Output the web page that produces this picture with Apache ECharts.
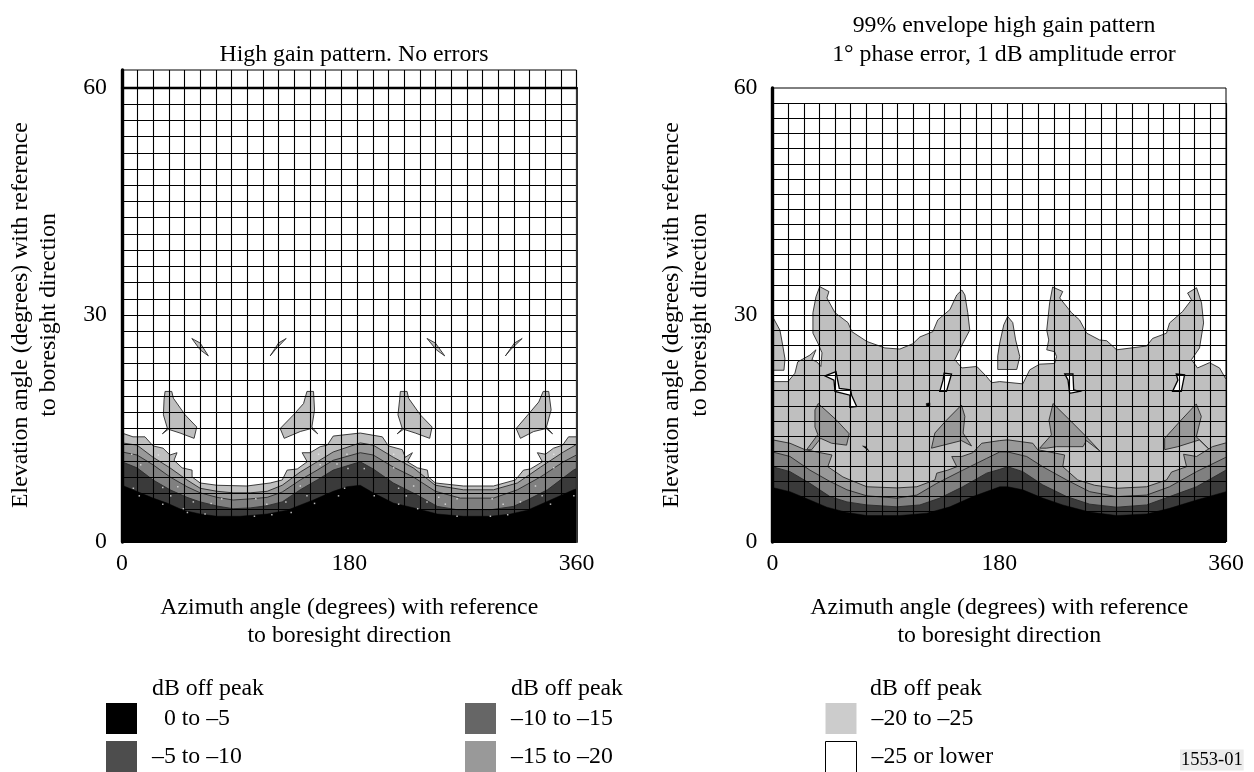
<!DOCTYPE html>
<html><head><meta charset="utf-8">
<style>html,body{margin:0;padding:0;background:#fff}#c{width:1254px;height:772px}</style>
<script src="https://cdn.jsdelivr.net/npm/echarts@6/dist/echarts.min.js"></script>
</head><body><div id="c"></div>
<script>
const panelTitles = ['High gain pattern. No errors', '99% envelope high gain pattern\n1° phase error, 1 dB amplitude error'];
const azimuthName = 'Azimuth angle (degrees) with reference\nto boresight direction';
const elevationName = 'Elevation angle (degrees) with reference\nto boresight direction';
const classNames = ['0 to –5', '–5 to –10', '–10 to –15', '–15 to –20', '–20 to –25', '–25 or lower'];
const legendColors = ['#000000', '#4d4d4d', '#666666', '#999999', '#cccccc', '#ffffff'];
const fillColors = ['#000000', '#3a3a3a', '#808080', '#999999', '#bfbfbf', '#ffffff'];

// Left panel, upper edge of each dB band: [azimuth, elevation]
const leftBand0 = [[0,7.5],[8.7,6.9],[24.6,5.8],[35.7,5.15],[48.4,4.2],[61.9,3.7],[75.3,3.4],[93.6,3.4],[115,3.7],[130.8,4.2],[151.5,5.55],[167.3,6.7],[178,7.3],[188.7,7.5],[199,6.5],[214.9,5.15],[233.9,4.4],[249.8,3.7],[270.4,3.4],[291.8,3.4],[307.7,3.7],[321,4.2],[339.4,5.55],[357.6,6.9],[360,7]];
const leftBand1 = [[0,10.6],[11.9,9.8],[24.6,8.2],[38,6.9],[51.5,5.9],[61.9,5.3],[75.3,4.75],[88,4.4],[101.5,4.5],[115,4.8],[126.9,5.3],[141.2,6.9],[154.6,8.2],[167.3,9.5],[188.7,10.6],[199,9.65],[214.9,7.8],[233.9,6.2],[249.8,4.7],[268,4.2],[289.4,4.2],[310,4.7],[321,5.55],[337,6.9],[357.6,9.5],[360,9.7]];
const leftBand2 = [[0,11.9],[11.9,11.5],[24.6,10.2],[38,8.6],[51.5,7.3],[61.9,6.5],[75.3,5.9],[88,5.55],[101.5,5.7],[115,5.9],[126.9,6.6],[141.2,8.2],[154.6,9.5],[167.3,10.8],[188.7,11.8],[199,11.5],[214.9,9.9],[230.7,8.6],[248.2,6.7],[268,5.8],[294.2,5.8],[313.2,6.9],[331.5,8.6],[349.7,10.6],[360,11.5]];
const leftBand3 = [[0,13.1],[11.9,12.8],[24.6,11.2],[38,9.8],[51.5,8.2],[61.9,7.1],[75.3,6.7],[88,6.5],[101.5,6.5],[115,6.7],[126.9,7.5],[141.2,9.25],[154.6,10.6],[167.3,11.9],[188.7,13.1],[199,12.8],[214.9,11.2],[230.7,9.8],[248.2,7.5],[270.4,6.9],[294.2,6.9],[313.2,7.8],[331.5,9.9],[349.7,11.9],[360,12.9]];
const leftBand4 = [[0,14.4],[8.7,13.9],[18.2,13.9],[24.6,12.7],[32.5,12.4],[38,11.5],[43.6,11.8],[41.2,10.8],[47.6,9.8],[55.5,9.5],[55.5,8.6],[61.9,7.8],[75.3,7.5],[99,7.4],[117.4,7.8],[126.9,8.2],[130.8,9.5],[138.8,9.65],[146.7,10.6],[142.7,11.8],[149,11.8],[157,12.6],[162.6,12.8],[167.3,14],[188.7,14.4],[206.2,13.9],[211,12.7],[222,12.2],[224.4,11.2],[230,11.8],[226,10.6],[234,9.8],[241.9,9.5],[242.7,8.6],[248.2,7.8],[270.4,7.4],[294.2,7.4],[311.6,8.2],[318,9.5],[323.5,9.65],[333,10.6],[329,11.8],[335.4,11.6],[341.8,12.4],[349,12.8],[353.7,13.9],[360,13.9]];
// Left panel, isolated -20 to -25 lobes
const leftLobes = [
 [[34.1,19.9],[39.4,19.9],[40.7,19],[50,16.8],[59.2,15.2],[57.1,13.7],[46,14.4],[36.7,14.9],[32,14.3],[36,15],[32.8,16.8],[33.3,18.8]],
 [[146.5,19.9],[151.7,19.9],[152.5,17.45],[150.4,15.2],[155,14.3],[150,15],[141.2,14.6],[128.5,13.7],[125.3,15],[135.8,16.8],[143.8,18.3]],
 [[220.5,19.9],[225.8,19.9],[227,19],[236.3,16.8],[245.6,15.2],[243.7,13.7],[232.3,14.4],[223,14.9],[218,14.3],[222,15],[218.6,16.8],[219.9,18.8]],
 [[333.6,19.9],[338,19.9],[339.9,17.45],[336.2,15.2],[341,14.3],[336,15],[326.1,14.6],[315.6,13.7],[312.2,15],[323.5,17.2],[330.1,18.5]],
 [[55.3,26.9],[61.9,26.3],[68.4,24.6],[61.9,25.4]],
 [[130,26.9],[124,26.3],[117.4,24.6],[121.3,25.4]],
 [[241.6,26.9],[248.2,26.3],[255.6,24.6],[249,25.4]],
 [[317,26.9],[310.9,26.3],[303.7,24.6],[307.7,25.4]]
];
// Left panel, small pale specks scattered along the contours
const leftSpecks = [[7.7,11.6],[14.8,10.2],[28.8,11.5],[9,7.1],[13.7,6.1],[32.3,7.2],[38.6,6.1],[44.2,7.3],[32.3,5],[48.6,4.4],[51.8,3.9],[56.5,5.3],[65.8,3.7],[70.6,5.1],[79,5.7],[104.9,3.4],[106,5.7],[114.7,5],[118.7,3.6],[129.8,5.3],[134,3.9],[141.2,7.4],[146.5,6.1],[152.5,5.1],[155.7,11.6],[157,10.2],[170.3,10.3],[179,9.7],[171.5,6.1],[176.3,7.1],[178.2,11.6],[191.9,9.7],[199.8,6.1],[215.2,11.6],[215.2,9.8],[219.1,7.1],[219.1,5],[225.2,6.1],[231,7.4],[234.2,4.4],[241.6,5.3],[250.9,5.9],[256.1,5],[265.4,5.7],[265.4,3.4],[291.8,3.4],[293.2,5.7],[301.9,5],[305.5,3.6],[315.6,5.3],[327.5,7.4],[332.8,6.1],[339.4,5],[342,11.6],[342,9.8],[357.9,6.1]];

// Right panel, upper edge of each dB band
const rightBand0 = [[0,7.2],[13.9,6.65],[29.7,5.55],[43.2,4.6],[59.1,3.9],[74.9,3.5],[101.1,3.5],[122.5,3.8],[140.8,4.65],[159,6],[180.4,7.3],[186.7,7.3],[198.7,6.9],[214.5,5.8],[230.4,4.9],[251.8,3.95],[273.2,3.5],[297,3.7],[315.2,4.45],[336.6,5.55],[360,6.65]];
const rightBand1 = [[0,9.95],[13.9,9.3],[29.7,7.75],[45.6,6],[59.1,5.3],[74.9,4.9],[98.7,4.65],[117,4.9],[132.8,5.8],[151,7.3],[170,9.1],[180.4,9.6],[186.7,9.95],[198.7,9.3],[214.5,7.55],[233.5,6],[251.8,5],[273.2,4.6],[297,4.9],[315.2,6],[336.6,7.3],[360,9.5]];
const rightBand2 = [[0,11.9],[13.9,11.3],[29.7,9.5],[45.6,8],[59.1,6.9],[74.9,6.1],[98.7,5.8],[114.6,6.2],[130.4,7.75],[148.7,9.3],[170,11.05],[180.4,11.9],[186.7,11.9],[201.8,11.3],[214.5,9.95],[233.5,8.2],[251.8,6.65],[273.2,6],[297,6.2],[315.2,7.3],[336.6,9.3],[360,11.2]];
const rightBand3 = [[0,13.5],[13.9,13.05],[25.8,12.2],[47.2,11.5],[43.9,9.95],[55.9,8.6],[61.5,8.2],[74.9,7.3],[98.7,7.15],[114.6,7.3],[128.9,8.2],[130.4,9.1],[139.2,9.5],[146.3,9.95],[142.3,11.3],[150.3,11.3],[159,11.8],[166.1,13.05],[180.4,13.4],[186.7,13.5],[206.6,13.05],[210.5,12.2],[231.9,11.5],[230.4,9.95],[242.3,8.2],[255.7,7.5],[273.2,7.1],[297,7.3],[312.8,8.2],[316.8,9.25],[328.7,9.95],[326.3,11.6],[336.6,11.3],[349.2,12.6],[360,13.1]];
const rightBand4 = [[0,21.2],[12.3,21.2],[17.8,22.3],[20,23.8],[29.7,24.7],[34.5,25.4],[31.3,24.1],[35.3,23.8],[38.4,23.2],[39.3,25],[36,26.3],[32.1,27.6],[32.1,30.3],[34.5,32.4],[37.5,33.75],[44.8,33.1],[43.2,32.25],[49.6,30.3],[59.9,29],[63,27.8],[74.9,26.5],[89.2,25.65],[101.1,25.5],[111.4,26.2],[117,27.1],[127.3,27.8],[131.2,29.35],[140.8,30.7],[146.3,32.65],[150.3,33.3],[152.7,32.65],[155,30.3],[156.6,28],[150.3,26],[144.7,24.1],[150.3,23],[162.2,23.2],[170,21.85],[174,21.05],[180.4,21.2],[198.7,20.9],[204.2,22.75],[212.1,23.5],[224,23.6],[225.5,24.5],[224,25.15],[217.7,25.4],[219.3,26.7],[217.7,28],[220,31.6],[222.4,33.7],[230.4,33.1],[228,32.25],[237.4,30.3],[243.7,29.35],[249.4,27.6],[259.7,26.7],[265.3,26.6],[273.2,25.4],[297,25.9],[301.7,26.9],[312.8,27.6],[315.2,28.95],[325.5,30.45],[332.6,32],[329.5,32.9],[336.6,33.6],[340.6,31.6],[342.2,28.95],[339,25.65],[332.6,24.1],[337.4,23],[346.9,23.7],[354.9,23],[360,21.5]];
// Right panel, isolated -20 to -25 lobes
const rightLightLobes = [
 [[0,29.8],[5.9,28],[8.3,25.8],[9.9,24.2],[9.1,22.7],[0,22.7]],
 [[186.7,29.8],[190.7,29],[193,26.7],[196.3,24.5],[193.9,22.8],[178.8,22.8],[178.8,24.6],[180.4,26.3],[183.6,28.7]]
];
// Right panel, holes below -25 inside the -20 to -25 band
const rightHoles = [
 [[41.6,21.95],[50.4,22.5],[53,20.3],[62,20.1],[62.8,19.4],[66.8,17.9],[61.5,17.8],[61.5,19.4],[49.6,19.9],[48.8,21.4]],
 [[136.2,22.3],[142.1,22.2],[138.1,19.9],[132.8,19.9],[135.4,21.4]],
 [[232,22.2],[238.5,22.2],[239.1,20.1],[243.8,19.9],[235.9,19.65],[234.6,21.4]],
 [[320.5,22.2],[327.1,22.1],[324.5,19.9],[317.6,19.9],[321.8,21.4]]
];
// Right panel, isolated -15 to -20 lobes
const rightMidLobes = [
 [[36.3,18.3],[50.9,16.1],[60.9,14.3],[58.8,12.8],[46.9,13.05],[38.2,13.7],[31.1,12.2],[27.1,12.2],[36,14.2],[33.7,15.2],[33.7,17.45]],
 [[150,18.1],[152.7,16.6],[151.3,14.4],[158,12.7],[150,13.4],[126.2,12.4],[128.9,14.4],[138.1,16.1]],
 [[222.7,18.3],[237.3,15.9],[250.4,13.7],[259.7,12.05],[249.2,13.4],[246.5,12.6],[225.4,12.6],[217.4,12.4],[212.1,12.4],[221.4,14.15],[219.5,16.1]],
 [[336.4,18.25],[340.4,16.6],[336.4,13.9],[346.9,12.2],[339,13.5],[321.8,12.6],[311.3,12.2],[311.3,13.7],[323.2,15.9]]
];
// Right panel, dark specks inside the -20 to -25 band
const rightSpecks = [
 [[122,18.3],[125,18.4],[125,18],[122.3,17.9]],
 [[71.5,12.7],[76.5,12.05],[74,12.6]]
];

const font = '"Liberation Serif","Times New Roman",serif';
const fs = 23.8;
const base = [[360, 0], [0, 0]];

function polygonSeries(name, cls, polys, axisIdx, stroke, lw) {
  return {
    type: 'custom', name, xAxisIndex: axisIdx, yAxisIndex: axisIdx, coordinateSystem: 'cartesian2d',
    silent: true, animation: false, clip: true,
    itemStyle: {color: fillColors[cls]},
    data: polys.map((p, i) => i),
    renderItem(params, api) {
      const poly = polys[api.value(0)];
      return {type: 'polygon', shape: {points: poly.map(v => api.coord(v))},
        style: {fill: fillColors[cls], stroke, lineWidth: lw}};
    }
  };
}
const band = b => b.concat(base);
const edge = '#2a2a2a';
const series = [
  // left panel
  polygonSeries(classNames[4], 4, [band(leftBand4), ...leftLobes], 0, edge, 0.9),
  polygonSeries(classNames[3], 3, [band(leftBand3)], 0, edge, 0.9),
  polygonSeries(classNames[2], 2, [band(leftBand2)], 0, edge, 0.9),
  polygonSeries(classNames[1], 1, [band(leftBand1)], 0, edge, 0.9),
  polygonSeries(classNames[0], 0, [band(leftBand0)], 0, '#000', 0.5),
  {type: 'scatter', name: 'specks', xAxisIndex: 0, yAxisIndex: 0, data: leftSpecks, symbol: 'rect', symbolSize: 1.5,
    itemStyle: {color: '#e8e8e8'}, silent: true, z: 7},
  // right panel
  polygonSeries(classNames[4], 4, [band(rightBand4), ...rightLightLobes], 2, edge, 0.9),
  polygonSeries(classNames[5], 5, rightHoles, 2, '#000', 1.3),
  polygonSeries(classNames[3], 3, [...rightMidLobes, band(rightBand3)], 2, edge, 0.9),
  polygonSeries(classNames[2], 2, [band(rightBand2)], 2, edge, 0.9),
  polygonSeries(classNames[1], 1, [band(rightBand1)], 2, edge, 0.9),
  polygonSeries(classNames[0], 0, [band(rightBand0), ...rightSpecks], 2, '#000', 0.5)
];

const gridLine = {show: true, lineStyle: {color: '#000', width: 1.1}};
const hidden = {axisLine: {show: false}, axisTick: {show: false}, axisLabel: {show: false}, splitLine: {show: false}};
const labelStyle = {color: '#000', fontFamily: font, fontSize: fs, margin: 15};
const nameStyle = {color: '#000', fontFamily: font, fontSize: fs, lineHeight: 28};
const labelledX = (gridIndex) => ({
  type: 'value', gridIndex, min: 0, max: 360, interval: 180, position: 'bottom',
  name: azimuthName, nameLocation: 'middle', nameGap: 52, nameTextStyle: nameStyle,
  axisLine: {show: false}, axisTick: {show: false}, splitLine: {show: false},
  axisLabel: {...labelStyle, margin: 10}, z: 6
});
const lineX = (gridIndex) => ({
  type: 'value', gridIndex, min: 0, max: 360, interval: 360 / 29, position: 'top',
  ...hidden, splitLine: gridLine, z: 4
});
const titleText = {fontFamily: font, fontSize: fs, fontWeight: 'normal', color: '#000'};
const gridBase = {containLabel: false, outerBoundsMode: 'none'};

const option = {
  animation: false,
  backgroundColor: '#fff',
  textStyle: {fontFamily: font},
  title: [
    {text: panelTitles[0], left: 349, top: 38, textAlign: 'center', textStyle: titleText},
    {text: panelTitles[1], left: 999, top: 6, textAlign: 'center', textStyle: {...titleText, lineHeight: 29}},
    {text: 'dB off peak', left: 147, top: 672, textStyle: titleText},
    {text: 'dB off peak', left: 506, top: 672, textStyle: titleText},
    {text: 'dB off peak', left: 865, top: 672, textStyle: titleText},
    {text: '1553-01', left: 1180, top: 750, padding: [1, 1, 1, 1], backgroundColor: '#ececec', textStyle: {...titleText, fontSize: 18.5, lineHeight: 18}}
  ],
  legend: [0, 1, 2].map(i => ({
    orient: 'vertical', left: [106, 465, 825][i], top: 703, height: 90, padding: 0,
    itemWidth: 31, itemHeight: 31, itemGap: 7, icon: 'rect', selectedMode: false,
    textStyle: {fontFamily: font, fontSize: fs, color: '#000', padding: [4, 0, 0, 10]},
    formatter: n => n === classNames[0] ? '\u00a0\u00a0' + n : n,
    data: [0, 1].map(k => {
      const c = i * 2 + k;
      return {name: classNames[c], itemStyle: c === 5
        ? {color: '#fff', borderColor: '#000', borderWidth: 1}
        : {color: legendColors[c], borderWidth: 0}};
    })
  })),
  grid: [
    {...gridBase, left: 122, width: 454.5, top: 70, height: 472, show: true, borderColor: '#000', borderWidth: 1, backgroundColor: '#fff'},
    {...gridBase, left: 122, width: 454.5, top: 88, height: 454},
    {...gridBase, left: 772.5, width: 453.5, top: 88, height: 454, show: true, borderColor: '#000', borderWidth: 1, backgroundColor: '#fff'},
    {...gridBase, left: 772.5, width: 453.5, top: 103.3, height: 438.7}
  ],
  xAxis: [
    labelledX(0),
    // thick line at elevation 60 in the left panel
    {type: 'value', gridIndex: 1, min: 0, max: 360, position: 'top', ...hidden, axisLine: {show: true, onZero: false, lineStyle: {color: '#000', width: 2.4}}, z: 5},
    labelledX(2),
    lineX(3),
    lineX(0)
  ],
  yAxis: [
    {type: 'value', gridIndex: 0, min: 0, max: 62.38, interval: 30, position: 'left',
      axisLine: {show: true, lineStyle: {color: '#000', width: 3.4}}, axisTick: {show: false}, splitLine: {show: false},
      axisLabel: {...labelStyle, showMaxLabel: false}, z: 6},
    {type: 'value', gridIndex: 1, min: 0, max: 60, interval: 60 / 28, position: 'left', ...hidden, splitLine: gridLine, z: 4,
      name: elevationName, nameLocation: 'middle', nameGap: 59, nameTextStyle: nameStyle},
    {type: 'value', gridIndex: 2, min: 0, max: 60, interval: 30, position: 'left',
      axisLine: {show: true, lineStyle: {color: '#000', width: 3.4}}, axisTick: {show: false}, splitLine: {show: false},
      axisLabel: labelStyle, z: 6,
      name: elevationName, nameLocation: 'middle', nameGap: 59, nameTextStyle: nameStyle},
    {type: 'value', gridIndex: 3, min: 0, max: 58, interval: 2, position: 'left', ...hidden, splitLine: gridLine, z: 4},
    // heavier right edge of the left panel
    {type: 'value', gridIndex: 1, min: 0, max: 60, position: 'right', ...hidden, axisLine: {show: true, onZero: false, lineStyle: {color: '#333', width: 2}}, z: 5}
  ],
  series
};
const chart = echarts.init(document.getElementById('c'), null, {renderer: 'canvas'});
chart.setOption(option);
</script></body></html>
